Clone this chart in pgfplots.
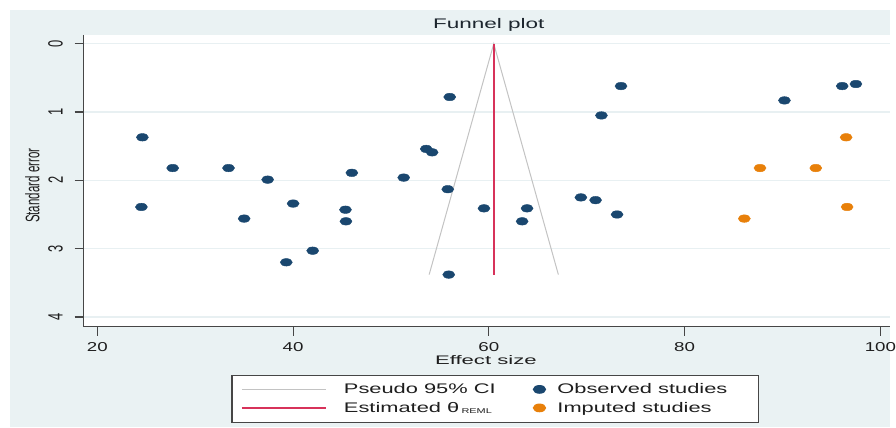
\documentclass[border=0pt]{standalone}
\usepackage{pgfplots}
\pgfplotsset{compat=1.18}
\usepackage{fontspec}
\setmainfont{Liberation Sans}
\newfontfamily\ftitle{Liberation Sans}[FakeStretch=1.62]
\newfontfamily\fxt{Liberation Sans}[FakeStretch=1.78]
\newfontfamily\fleg{Liberation Sans}[FakeStretch=1.57]
\newfontfamily\ftick{Liberation Sans}[FakeStretch=1.45]
\newfontfamily\fplain{Liberation Sans}
\definecolor{bgcol}{RGB}{234,242,243}
\definecolor{gridcol}{RGB}{232,240,242}
\definecolor{axcol}{RGB}{70,70,70}
\definecolor{navy}{RGB}{26,71,111}
\definecolor{orng}{RGB}{232,128,10}
\definecolor{redl}{RGB}{215,50,90}
\definecolor{cigray}{RGB}{195,195,195}
\definecolor{txt}{RGB}{30,30,30}
\pgfplotsset{longline/.style={legend image code/.code={\draw[##1] (0pt,0pt) -- (85pt,0pt);}}}
\newcommand\ys[1]{\scalebox{1}[1.6]{\fplain\fontsize{13}{14}\selectfont #1}}
\pgfplotstableread{
x y
24.6 1.37
24.5 2.39
27.7 1.82
33.4 1.82
35.0 2.56
37.4 1.99
40.0 2.34
39.3 3.20
42.0 3.03
45.35 2.43
45.4 2.60
46.0 1.89
51.3 1.96
53.6 1.54
54.2 1.59
56.0 0.78
55.8 2.13
55.9 3.38
59.5 2.41
63.9 2.41
63.4 2.60
69.4 2.25
70.9 2.29
73.1 2.50
71.5 1.05
73.5 0.62
90.2 0.83
96.1 0.62
97.5 0.59
}\observed
\pgfplotstableread{
x y
96.5 1.37
87.7 1.82
93.4 1.82
96.6 2.39
86.1 2.56
}\imputed
\begin{document}
\begin{tikzpicture}[x=1pt,y=1pt]
\fill[white] (0,0) rectangle (896,430);
\fill[bgcol] (10,0) rectangle (896,420);
\node[text=txt!80!navy, font=\ftitle\fontsize{14}{16}\selectfont] at (492,405) {Funnel plot};
\begin{axis}[
  at={(84pt,101pt)}, anchor=south west,
  scale only axis, width=812pt, height=294pt,
  xmin=18.58, xmax=101.0, ymin=-0.131, ymax=4.145,
  y dir=reverse,
  axis background/.style={fill=white},
  axis line style={draw=none},
  xtick={20,40,60,80,100}, ytick={0,1,2,3,4},
  xtick pos=lower, ytick pos=left,
  xticklabel pos=lower, yticklabel pos=left,
  tick align=outside, major tick length=9pt,
  tick style={axcol, line width=1.2pt},
  xticklabels={20,40,60,80,100},
  yticklabels={\ys{0},\ys{1},\ys{2},\ys{3},\ys{4}},
  xticklabel style={font=\ftick\fontsize{13}{14}\selectfont, text=txt, anchor=center, inner sep=0pt, yshift=-11pt},
  yticklabel style={xshift=-19pt, rotate=90, anchor=center, inner sep=0pt, text=txt},
  ymajorgrids, grid style={gridcol, line width=1.2pt},
  xlabel={Effect size},
  xlabel style={font=\fxt\fontsize{12.5}{14}\selectfont, text=txt, at={(axis description cs:0.4988,-0.114)}, anchor=center, inner sep=0pt},
  ylabel={\scalebox{1}[1.7]{\fplain\fontsize{11.6}{13}\selectfont Standard error}},
  ylabel style={at={(axis description cs:-0.0634,0.483)}, anchor=center, inner sep=0pt, text=txt},
  clip=false,
  legend columns=2,
  legend cell align=left,
  legend style={at={(axis description cs:0.1835,-0.1633)}, anchor=north west,
    draw=axcol, line width=1.2pt, fill=white,
    font=\fleg\fontsize{14}{16}\selectfont, text=txt,
    inner xsep=9pt, inner ysep=6.5pt, row sep=3pt,
    /tikz/column 1/.append style={column sep=15pt},
    /tikz/column 2/.append style={column sep=36pt},
    /tikz/column 3/.append style={column sep=10pt}},
]
\addplot[cigray, line width=1pt, forget plot] coordinates {(53.9,3.38) (60.5,0) (67.1,3.38)};
\addplot[redl, line width=1.6pt, forget plot] coordinates {(60.5,0) (60.5,3.38)};
\addplot[only marks, mark=*, mark size=3.8pt, navy, mark options={xscale=1.6, draw=navy, fill=navy}, forget plot] table[x=x,y=y] {\observed};
\addplot[only marks, mark=*, mark size=3.8pt, orng, mark options={xscale=1.6, draw=orng, fill=orng}, forget plot] table[x=x,y=y] {\imputed};
\addlegendimage{cigray, line width=1pt, longline}
\addlegendentry{Pseudo 95\% CI}
\addlegendimage{only marks, mark=*, mark size=3.8pt, navy, mark options={xscale=1.6}}
\addlegendentry{Observed studies\rule{20pt}{0pt}}
\addlegendimage{color=redl, draw=redl, line width=1.6pt, longline}
\addlegendentry{Estimated θ\,\raisebox{-1pt}{\fontsize{7}{8}\selectfont REML}}
\addlegendimage{only marks, mark=*, mark size=3.8pt, orng, mark options={xscale=1.6}}
\addlegendentry{Imputed studies}
\end{axis}
\draw[axcol, line width=1.2pt] (84,395) -- (84,101) -- (896,101);
\end{tikzpicture}
\end{document}
